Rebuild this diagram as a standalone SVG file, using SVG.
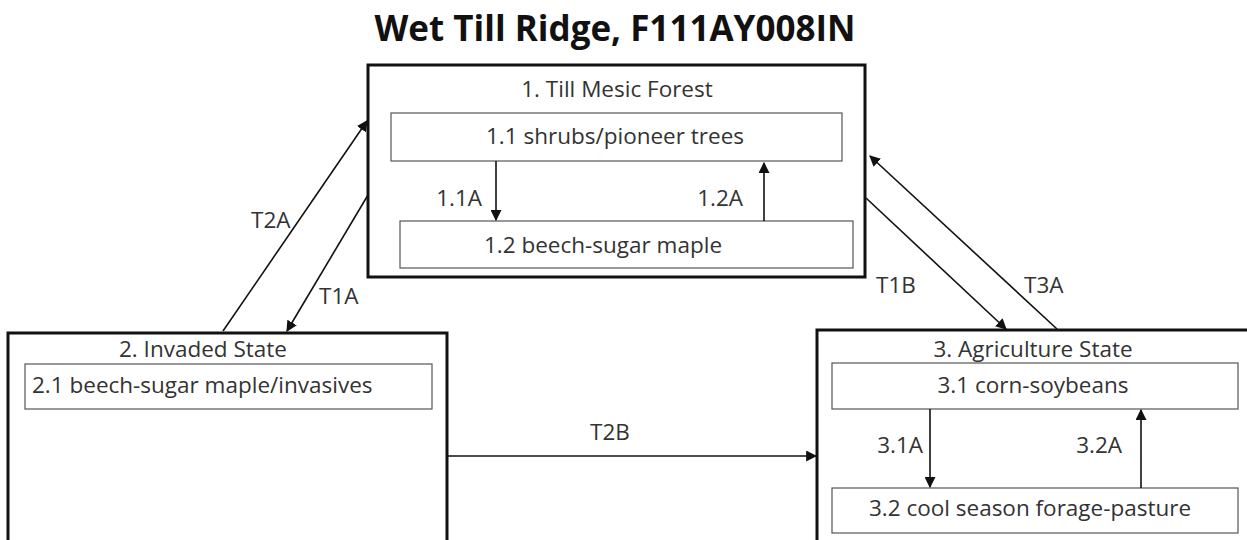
<svg xmlns="http://www.w3.org/2000/svg" width="1247" height="540" viewBox="0 0 1247 540">
<style>
.title{font-family:"Open Sans","Liberation Sans",sans-serif;font-weight:bold;font-size:35px;fill:#111;text-anchor:middle}
.t{font-family:"Open Sans","Liberation Sans",sans-serif;font-size:22.5px;fill:#333}
.m{text-anchor:middle}
.e{text-anchor:end}
.state{fill:#fff;stroke:#111;stroke-width:3}
.phase{fill:#fff;stroke:#555;stroke-width:1.2}
.c{stroke:#111;stroke-width:1.6;fill:none;marker-end:url(#ah)}
</style>
<defs>
<marker id="ah" viewBox="0 0 10 10" refX="9" refY="5" markerWidth="11" markerHeight="11" markerUnits="userSpaceOnUse" orient="auto">
<path d="M0,0 L10,5 L0,10 z" fill="#111"/>
</marker>
</defs>
<rect width="1247" height="540" fill="#fff"/>
<text class="title" x="615" y="41">Wet Till Ridge, F111AY008IN</text>
<g id="state1">
<rect class="state" x="368" y="65" width="497" height="212"/>
<text class="t m" x="617" y="97">1. Till Mesic Forest</text>
</g>
<g id="phase1_1">
<rect class="phase" x="391" y="113" width="451" height="48"/>
<text class="t m" x="615" y="144">1.1 shrubs/pioneer trees</text>
</g>
<g id="phase1_2">
<rect class="phase" x="400" y="221" width="453" height="47"/>
<text class="t m" x="603" y="253">1.2 beech-sugar maple</text>
</g>
<g id="state2">
<rect class="state" x="8" y="333" width="439" height="215"/>
<text class="t m" x="203" y="357">2. Invaded State</text>
</g>
<g id="phase2_1">
<rect class="phase" x="25" y="364" width="407" height="45"/>
<text class="t" x="32" y="393">2.1 beech-sugar maple/invasives</text>
</g>
<g id="state3">
<rect class="state" x="817" y="330" width="435" height="218"/>
<text class="t m" x="1033" y="357">3. Agriculture State</text>
</g>
<g id="phase3_1">
<rect class="phase" x="832" y="363" width="406" height="46"/>
<text class="t m" x="1033" y="393">3.1 corn-soybeans</text>
</g>
<g id="phase3_2">
<rect class="phase" x="832" y="488" width="406" height="45"/>
<text class="t m" x="1030" y="516">3.2 cool season forage-pasture</text>
</g>
<g id="connectors">
<line class="c" x1="496" y1="161" x2="496" y2="220"/>
<line class="c" x1="764" y1="221" x2="764" y2="163"/>
<line class="c" x1="930" y1="409" x2="930" y2="487"/>
<line class="c" x1="1141" y1="488" x2="1141" y2="410"/>
<line class="c" x1="223" y1="331" x2="367" y2="121"/>
<line class="c" x1="368" y1="195" x2="287" y2="331"/>
<line class="c" x1="866" y1="198" x2="1006" y2="329"/>
<line class="c" x1="1057" y1="329" x2="870" y2="156"/>
<line class="c" x1="448" y1="456" x2="816" y2="456"/>
<text class="t e" x="482" y="206">1.1A</text>
<text class="t e" x="743" y="206">1.2A</text>
<text class="t e" x="923" y="453">3.1A</text>
<text class="t e" x="1122" y="453">3.2A</text>
<text class="t" x="251" y="228">T2A</text>
<text class="t" x="319" y="304">T1A</text>
<text class="t" x="876" y="293">T1B</text>
<text class="t" x="1024" y="293">T3A</text>
<text class="t m" x="610" y="440">T2B</text>
</g>
</svg>
